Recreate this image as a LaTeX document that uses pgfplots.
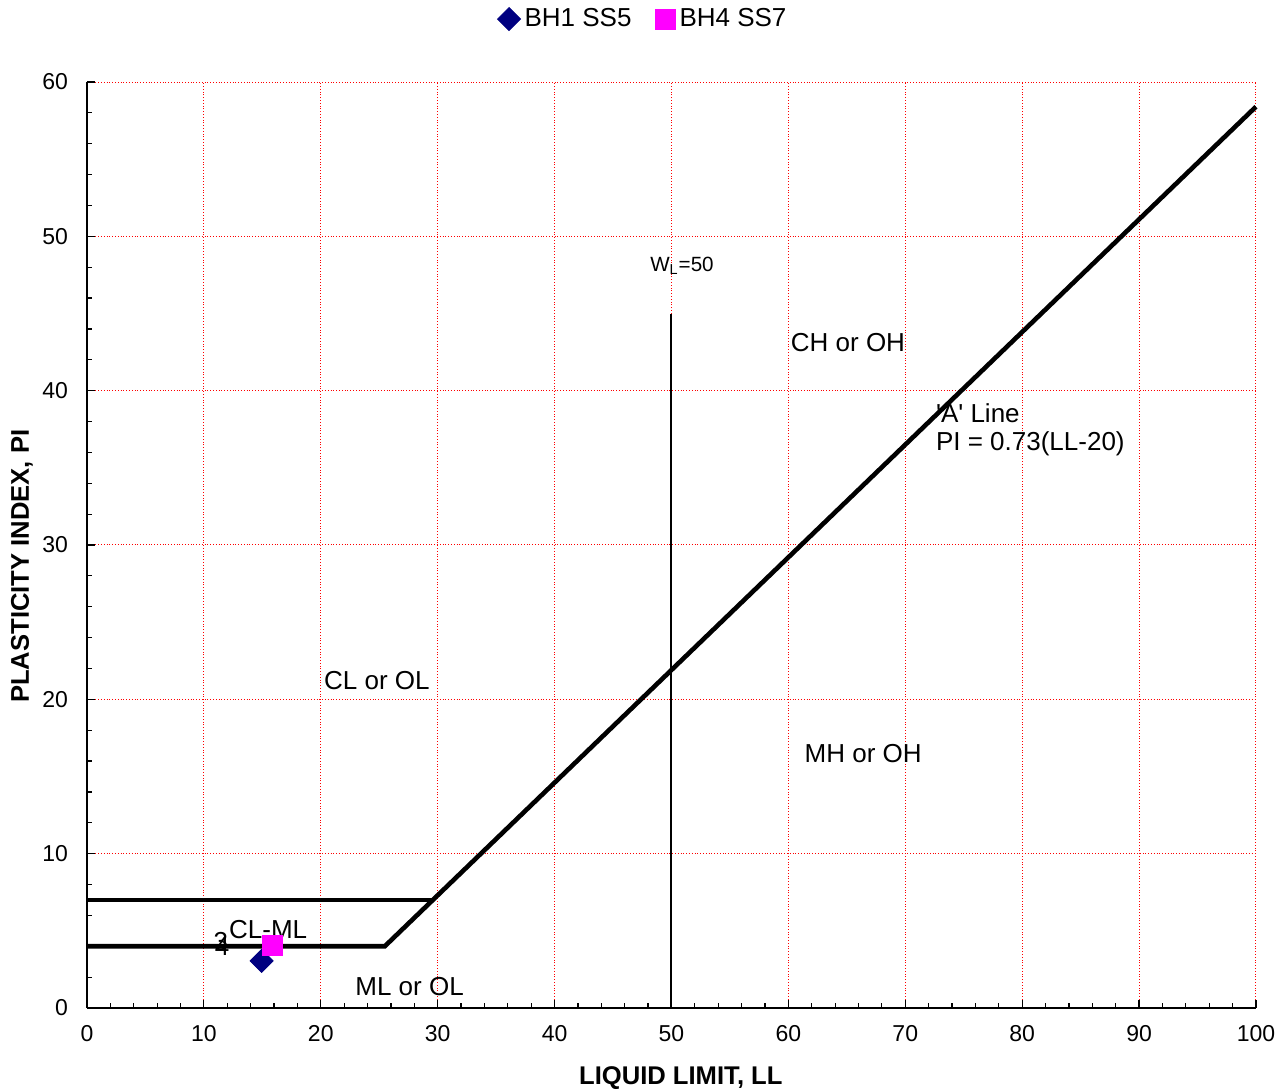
\documentclass[border=0pt]{standalone}
\usepackage{fontspec}
\setmainfont{Liberation Sans}
\usepackage{pgfplots}
\pgfplotsset{compat=1.18}
\definecolor{navyd}{RGB}{0,0,128}
\definecolor{magbright}{RGB}{255,0,255}
\begin{document}
\begin{tikzpicture}
\begin{axis}[
 scale only axis, width=584.5pt, height=463pt,
 xmin=0,xmax=100,ymin=0,ymax=60,
 xtick={0,10,...,100}, ytick={0,10,...,60},
 minor x tick num=4, minor y tick num=4,
 axis x line=bottom, axis y line=left, axis line style={-, line width=0.8pt},
 grid=major, major grid style={red, densely dotted, line width=0.5pt},
 tick align=inside, major tick length=4pt, minor tick length=2.5pt,
 tick style={black, line width=0.6pt},
 ticklabel style={font=\fontsize{11.5}{13}\selectfont},
 xticklabel style={yshift=-5pt},
 yticklabel style={xshift=-6pt},
 /pgf/number format/assume math mode=true,
 xlabel={LIQUID LIMIT, LL}, ylabel={PLASTICITY INDEX, PI},
 label style={font=\bfseries\fontsize{12.8}{14}\selectfont},
 xlabel style={at={(axis description cs:0.508,-0.0756)}, anchor=center},
 ylabel style={at={(axis description cs:-0.0556,0.477)}, anchor=center},
 clip=false,
 legend style={at={(axis description cs:0.4765,1.068)}, anchor=center, draw=none, fill=none,
   legend columns=2, font=\fontsize{13}{15}\selectfont,
   /tikz/every even column/.append style={column sep=10pt}},
 legend cell align=left,
]
\addplot[only marks, mark=square*, mark size=4.07pt, mark options={rotate=45}, color=navyd] coordinates {(14.94,3.05)};
\addlegendentry{BH1 SS5}
\addplot[only marks, mark=square*, mark size=5pt, color=magbright] coordinates {(15.9,4.04)};
\addlegendentry{BH4 SS7}
\addplot[black, line width=2.3pt, forget plot] coordinates {(0,7) (29.59,7)};
\addplot[black, line width=2.3pt, forget plot] coordinates {(0,4) (25.48,4) (100,58.4)};
\addplot[black, line width=1pt, forget plot] coordinates {(50,0) (50,45)};
\node[font=\fontsize{13}{15}\selectfont] at (axis cs:24.8,21.2) {CL or OL};
\node[font=\fontsize{13}{15}\selectfont] at (axis cs:65.1,43.1) {CH or OH};
\node[font=\fontsize{13}{15}\selectfont] at (axis cs:66.4,16.5) {MH or OH};
\node[font=\fontsize{13}{15}\selectfont] at (axis cs:27.6,1.36) {ML or OL};
\node[font=\fontsize{13}{15}\selectfont] at (axis cs:15.5,5.1) {CL-ML};
\node[font=\fontsize{10.3}{12}\selectfont] at (axis cs:50.9,48.1) {W\textsubscript{L}=50};
\node[font=\fontsize{13}{14}\selectfont, anchor=west, align=left, inner sep=0pt] at (axis cs:72.6,37.45) {\textquotesingle A\textquotesingle{} Line\\PI = 0.73(LL-20)};
\node[font=\fontsize{13}{15}\selectfont] at (axis cs:11.46,4.28) {3};
\node[font=\fontsize{13}{15}\selectfont] at (axis cs:11.55,3.95) {4};
\coordinate (bbsw) at (rel axis cs:-0.0744,-0.0896);
\coordinate (bbne) at (rel axis cs:1.0240,1.0886);
\end{axis}
\pgfresetboundingbox
\useasboundingbox (bbsw) rectangle (bbne);
\end{tikzpicture}
\end{document}
